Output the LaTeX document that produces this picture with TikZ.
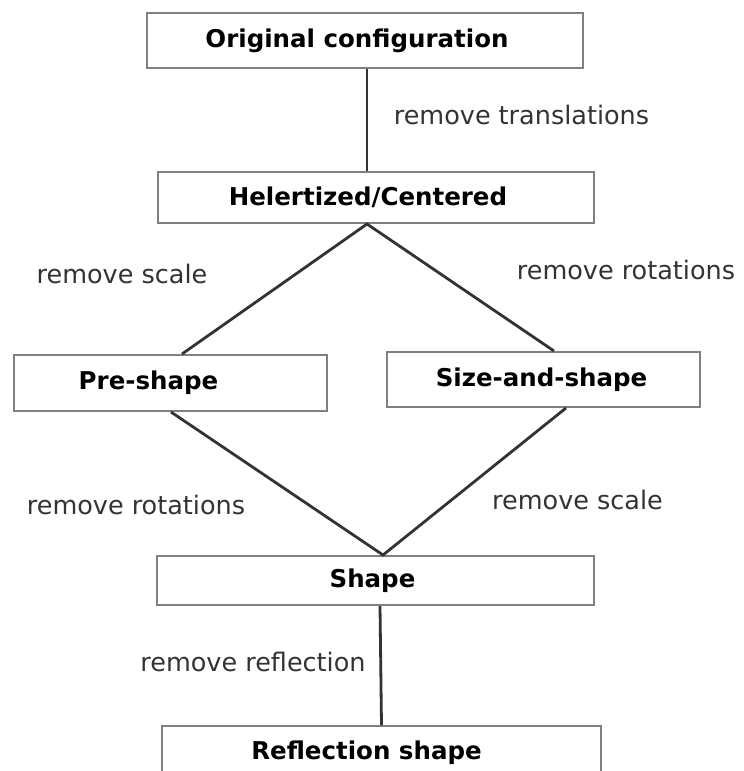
\documentclass[tikz,border=0pt]{standalone}
\usepackage{fontspec}
\setmainfont{DejaVu Sans}
\begin{document}
\begin{tikzpicture}[x=1pt,y=-1pt,
  box/.style={draw=black!50, line width=2pt, fill=white, inner sep=0pt,
    font=\fontsize{24.5}{28}\selectfont\bfseries, text=black},
  lbl/.style={font=\fontsize{25.5}{30}\selectfont, text=black!80, inner sep=0pt},
  conn/.style={draw=black!80, line width=2.8pt}]
\clip (0,0) rectangle (744,771);
\useasboundingbox (0,0) rectangle (744,771);
% boxes
\node[box, minimum width=436pt, minimum height=55pt] (orig) at (365,40.5) {\hspace*{-16pt}Original configuration};
\node[box, minimum width=436pt, minimum height=51pt] (hel) at (376,197.5) {\hspace*{-16pt}Helertized/Centered};
\node[box, minimum width=313pt, minimum height=56pt] (pre) at (170.5,383) {\hspace*{-44pt}Pre-shape};
\node[box, minimum width=313pt, minimum height=55pt] (ss) at (543.5,379.5) {\hspace*{-4pt}Size-and-shape};
\node[box, minimum width=437pt, minimum height=49pt] (sh) at (375.5,580.5) {\hspace*{-6pt}Shape};
\node[box, minimum width=439pt, minimum height=54pt] (refl) at (381.5,753) {\hspace*{-30pt}Reflection shape};
% connectors
\draw[conn] ([xshift=2pt]orig.south) -- ([xshift=-9pt]hel.north);
\draw[conn] ([xshift=11.5pt]pre.north) -- ([xshift=-9pt]hel.south) -- ([xshift=10.5pt]ss.north);
\draw[conn] ([xshift=0.5pt]pre.south) -- ([xshift=7.5pt]sh.north) -- ([xshift=22.5pt]ss.south);
\draw[conn] ([xshift=4.5pt]sh.south) -- (refl.north);
% labels
\node[lbl] (l1) at (521.5,115) {remove translations};
\node[lbl] (l2) at (122,274) {remove scale};
\node[lbl] (l3) at (626,270) {remove rotations};
\node[lbl] (l4) at (136,505) {remove rotations};
\node[lbl] (l5) at (577.5,500) {remove scale};
\node[lbl] (l6) at (253,662) {remove reflection};
\end{tikzpicture}
\end{document}
